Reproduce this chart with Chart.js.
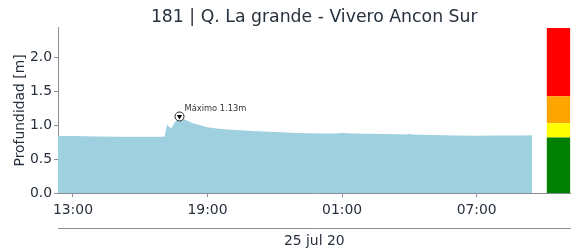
<!DOCTYPE html>
<html>
<head>
<meta charset="utf-8">
<script src="https://cdn.jsdelivr.net/npm/chart.js@4.4.1/dist/chart.umd.min.js"></script>
<style>
  html, body { margin: 0; padding: 0; background: #fff; }
  #wrap { width: 576px; height: 250px; }
</style>
</head>
<body>
<div id="wrap"><canvas id="levelChart"></canvas></div>
<script>
'use strict'

// readings, 24-25 jul 20 (hours < 12 belong to the next day)
var times = ['12:20', '13:00', '14:00', '15:00', '16:00', '17:00', '17:05', '17:08', '17:12',
  '17:18', '17:24', '17:32', '17:40', '17:45', '17:52', '18:05', '18:20', '18:40', '19:00',
  '19:30', '20:00', '20:30', '21:00', '22:00', '23:00', '00:00', '00:40', '01:00', '01:30',
  '02:00', '03:00', '03:55', '04:00', '04:05', '05:00', '06:00', '07:00', '08:00', '09:00', '09:28'];
var depths = [0.84, 0.84, 0.835, 0.83, 0.83, 0.83, 0.83, 0.92, 1.01,
  0.97, 0.96, 1.04, 1.09, 1.13, 1.10, 1.07, 1.03, 1.00, 0.97,
  0.95, 0.935, 0.925, 0.915, 0.90, 0.885, 0.88, 0.88, 0.885, 0.88,
  0.875, 0.87, 0.865, 0.875, 0.862, 0.855, 0.85, 0.845, 0.848, 0.85, 0.853];

var peakTime = '17:45';
var peakDepth = 1.13;
var peakLabel = 'Máximo 1.13m';

// alert levels for the side bar (upper bound of each band)
var levelTops = [0.82, 1.03, 1.43, 2.44];
var levelColors = ['#008000', '#ffff00', '#ffa500', '#ff0000'];

var tickLabels = ['13:00', '19:00', '01:00', '07:00'];
var dateLabel = '25 jul 20';
var title = '181 | Q. La grande - Vivero Ancon Sur';

// time window of the axis and of the side bar
var axisStart = '12:20';
var axisEnd = '11:11';
var barStart = '10:07';

function toMinutes(t) {
  var p = t.split(':');
  var h = parseInt(p[0], 10);
  var m = parseInt(p[1], 10);
  if (h < 12) h += 24;
  return h * 60 + m;
}

function fmtTime(v) {
  var h = Math.floor(v / 60) % 24;
  var m = Math.round(v % 60);
  return (h < 10 ? '0' : '') + h + ':' + (m < 10 ? '0' : '') + m;
}

var textColor = '#27303d';
var axisColor = '#8a9099';
var font = 'DejaVu Sans';

var series = times.map(function (t, i) { return { x: toMinutes(t), y: depths[i] }; });

// note: chart.js paints dataset 0 last, so the marker goes first
var datasets = [{
  label: 'maxTri',
  data: [{ x: toMinutes(peakTime), y: peakDepth }],
  showLine: false,
  pointStyle: 'triangle',
  pointRotation: 180,
  pointRadius: 3,
  pointBackgroundColor: '#000000',
  pointBorderColor: '#000000',
  pointBorderWidth: 0
}, {
  label: 'maxRing',
  data: [{ x: toMinutes(peakTime), y: peakDepth }],
  showLine: false,
  pointStyle: 'circle',
  pointRadius: 4.5,
  pointBackgroundColor: '#ffffff',
  pointBorderColor: '#222222',
  pointBorderWidth: 1
}, {
  label: 'Profundidad',
  data: series,
  borderWidth: 0,
  borderColor: '#9fd0df',
  backgroundColor: '#9fd0df',
  pointRadius: 0,
  fill: 'origin',
  tension: 0
}];

levelTops.forEach(function (top, i) {
  datasets.push({
    label: 'nivel' + i,
    data: [{ x: toMinutes(barStart), y: top }, { x: toMinutes(axisEnd), y: top }],
    borderWidth: 0,
    borderColor: levelColors[i],
    backgroundColor: levelColors[i],
    pointRadius: 0,
    fill: i === 0 ? 'origin' : '-1'
  });
});

var peakText = {
  id: 'peakText',
  afterDatasetsDraw: function (chart) {
    var x = chart.scales.x.getPixelForValue(toMinutes(peakTime));
    var y = chart.scales.y.getPixelForValue(peakDepth);
    var ctx = chart.ctx;
    ctx.save();
    ctx.font = '8.3px "' + font + '"';
    ctx.fillStyle = '#333333';
    ctx.textAlign = 'left';
    ctx.textBaseline = 'middle';
    ctx.fillText(peakLabel, x + 5, y - 8);
    ctx.restore();
  }
};

function renderChart() {
  var ctx = document.getElementById('levelChart').getContext('2d');
  var chart = new Chart(ctx, {
    type: 'line',
    data: { datasets: datasets },
    options: {
      responsive: true,
      maintainAspectRatio: false,
      animation: false,
      layout: { padding: { left: 0, right: 4, top: 0, bottom: 0 } },
      plugins: {
        legend: { display: false },
        tooltip: { enabled: false },
        title: {
          display: true,
          text: title,
          fullSize: false,
          color: textColor,
          font: { family: font, size: 17.3, weight: 'normal' },
          padding: { top: 7, bottom: 0 }
        }
      },
      scales: {
        x: {
          type: 'linear',
          position: 'bottom',
          min: toMinutes(axisStart),
          max: toMinutes(axisEnd),
          afterBuildTicks: function (scale) {
            scale.ticks = tickLabels.map(function (t) { return { value: toMinutes(t) }; });
          },
          afterFit: function (scale) {
            scale.height = 35;
            scale.paddingLeft = 0;
            scale.paddingRight = 0;
          },
          ticks: {
            color: textColor,
            font: { family: font, size: 13.9 },
            padding: 5,
            maxRotation: 0,
            callback: function (v) { return fmtTime(v); }
          },
          grid: { display: true, drawOnChartArea: false, drawTicks: true, tickLength: 4, color: axisColor },
          border: { display: true, color: axisColor, width: 1 }
        },
        x2: {
          type: 'linear',
          position: 'bottom',
          min: toMinutes(axisStart),
          max: toMinutes(axisEnd),
          afterBuildTicks: function (scale) { scale.ticks = []; },
          afterFit: function (scale) {
            scale.height = 22;
            scale.paddingLeft = 0;
            scale.paddingRight = 0;
          },
          ticks: { display: false },
          grid: { display: false },
          border: { display: true, color: axisColor, width: 1 },
          title: {
            display: true,
            text: dateLabel,
            color: textColor,
            font: { family: font, size: 13.9 },
            padding: 0
          }
        },
        y: {
          min: 0,
          max: levelTops[levelTops.length - 1],
          afterBuildTicks: function (scale) {
            scale.ticks = [0, 0.5, 1, 1.5, 2].map(function (v) { return { value: v }; });
          },
          afterFit: function (scale) { scale.width = 58; },
          ticks: {
            color: textColor,
            font: { family: font, size: 13.9 },
            padding: 2,
            callback: function (v) { return v.toFixed(1); }
          },
          grid: { display: true, drawOnChartArea: false, drawTicks: true, tickLength: 4, color: axisColor },
          border: { display: true, color: axisColor, width: 1 },
          title: {
            display: true,
            text: 'Profundidad [m]',
            color: textColor,
            font: { family: font, size: 13.9 },
            padding: { top: 12, bottom: 0 }
          }
        }
      }
    },
    plugins: [peakText]
  });
  return chart;
}

renderChart();
</script>
</body>
</html>
